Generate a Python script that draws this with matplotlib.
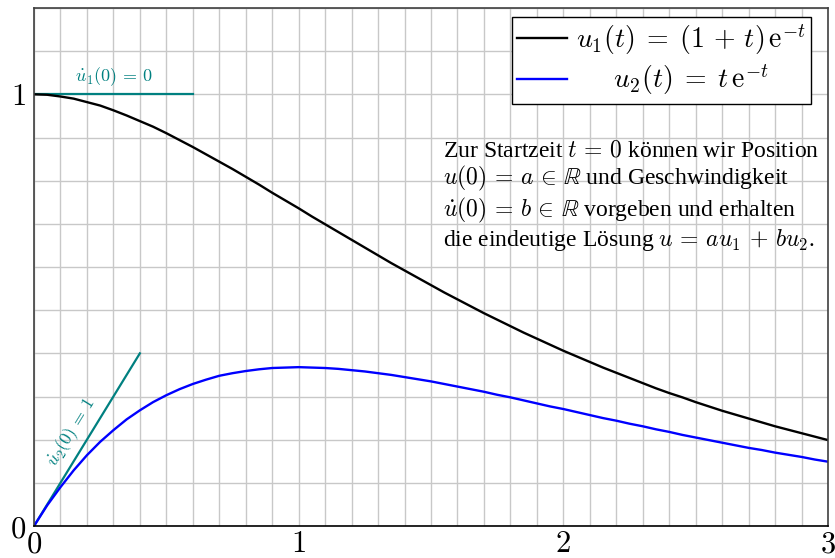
import numpy as np
import matplotlib.pyplot as plt
from matplotlib.ticker import MultipleLocator

t = [0.00, 0.05, 0.10, 0.15, 0.20, 0.25, 0.30, 0.35, 0.40, 0.45,
     0.50, 0.55, 0.60, 0.65, 0.70, 0.75, 0.80, 0.85, 0.90, 0.95,
     1.00, 1.05, 1.10, 1.15, 1.20, 1.25, 1.30, 1.35, 1.40, 1.45,
     1.50, 1.55, 1.60, 1.65, 1.70, 1.75, 1.80, 1.85, 1.90, 1.95,
     2.00, 2.05, 2.10, 2.15, 2.20, 2.25, 2.30, 2.35, 2.40, 2.45,
     2.50, 2.55, 2.60, 2.65, 2.70, 2.75, 2.80, 2.85, 2.90, 2.95, 3.00]
u1 = [1.000, 0.999, 0.995, 0.990, 0.982, 0.974, 0.963, 0.951, 0.938, 0.925,
      0.910, 0.894, 0.878, 0.861, 0.844, 0.827, 0.809, 0.791, 0.772, 0.754,
      0.736, 0.717, 0.699, 0.681, 0.663, 0.645, 0.627, 0.609, 0.592, 0.575,
      0.558, 0.541, 0.525, 0.509, 0.493, 0.478, 0.463, 0.448, 0.434, 0.420,
      0.406, 0.393, 0.380, 0.367, 0.355, 0.343, 0.331, 0.319, 0.308, 0.298,
      0.287, 0.277, 0.267, 0.258, 0.249, 0.240, 0.231, 0.223, 0.215, 0.207, 0.199]
u2 = [0.000, 0.048, 0.090, 0.129, 0.164, 0.195, 0.222, 0.247, 0.268, 0.287,
      0.303, 0.317, 0.329, 0.339, 0.348, 0.354, 0.359, 0.363, 0.366, 0.367,
      0.368, 0.367, 0.366, 0.364, 0.361, 0.358, 0.354, 0.350, 0.345, 0.340,
      0.335, 0.329, 0.323, 0.317, 0.311, 0.304, 0.298, 0.291, 0.284, 0.277,
      0.271, 0.264, 0.257, 0.250, 0.244, 0.237, 0.231, 0.224, 0.218, 0.211,
      0.205, 0.199, 0.193, 0.187, 0.181, 0.176, 0.170, 0.165, 0.160, 0.154, 0.149]

# Tangenten im Startpunkt
tan1_t = [0.0, 0.6]
tan1_u = [1.0, 1.0]
tan2_t = [0.0, 0.4]
tan2_u = [0.0, 0.4]

x_ticks = [0, 1, 2, 3]
y_ticks = [0, 1]

plt.rcParams['mathtext.fontset'] = 'cm'
plt.rcParams['font.family'] = ['Liberation Serif', 'DejaVu Serif']

teal = '#008080'

fig = plt.figure(figsize=(8.35, 5.58), dpi=100)
ax = fig.add_axes([34 / 835, 1 - 526 / 558, 794 / 835, 518 / 558])

ax.set_xlim(0, 3)
ax.set_ylim(0, 1.2)

ax.xaxis.set_minor_locator(MultipleLocator(0.1))
ax.yaxis.set_minor_locator(MultipleLocator(0.1))
ax.grid(which='both', color='#c8c8c8', linewidth=1.0)
ax.set_axisbelow(True)

ax.set_xticks(x_ticks)
ax.set_yticks(y_ticks)
ax.set_xticklabels([f'${v}$' for v in x_ticks], fontsize=22)
ax.set_yticklabels([f'${v}$' for v in y_ticks], fontsize=22)
ax.tick_params(which='both', length=0)
ax.tick_params(axis='x', pad=3)
ax.tick_params(axis='y', pad=6)

for side in ['top', 'right', 'left']:
    ax.spines[side].set_color('#404040')
    ax.spines[side].set_linewidth(1.2)
ax.spines['bottom'].set_color('black')
ax.spines['bottom'].set_linewidth(1.2)

ax.plot(tan1_t, tan1_u, color=teal, lw=1.6)
ax.plot(tan2_t, tan2_u, color=teal, lw=1.6)
ax.plot(t, u1, color='black', lw=1.7, solid_joinstyle='round',
        label=r'$u_1(t)\;=\;(1\,+\,t)\,\mathrm{e}^{-t}$')
ax.plot(t, u2, color='blue', lw=1.7, solid_joinstyle='round',
        label=r'$\quad\;\;u_2(t)\;=\;t\,\mathrm{e}^{-t}$')

ax.text(0.3, 1.03, r'$\dot{u}_1(0)\,=\,0$', color=teal, fontsize=13, ha='center', va='baseline')
ax.text(0.14, 0.218, r'$\dot{u}_2(0)\,=\,1$', color=teal, fontsize=13,
        ha='center', va='center', rotation=58.5)

leg = ax.legend(loc='upper right', bbox_to_anchor=(0.9786, 0.9826), fontsize=20,
                fancybox=False, framealpha=1, edgecolor='black', handlelength=1.8,
                handletextpad=0.3, borderpad=0.2, labelspacing=0.2, borderaxespad=0)
leg.get_frame().set_linewidth(1.0)

info = ("Zur Startzeit $t\\,=\\,0$ können wir Position\n"
        r"$u(0)\,=\,a\,\in\,\mathbb{R}$ und Geschwindigkeit" "\n"
        r"$\dot{u}(0)\,=\,b\,\in\,\mathbb{R}$ vorgeben und erhalten" "\n"
        r"die eindeutige Lösung $u\,=\,au_1\,+\,bu_2$.")
ax.text(1.545, 0.893, info, fontsize=17, ha='left', va='top', linespacing=1.12)

fig.savefig('out.png', dpi=100)
